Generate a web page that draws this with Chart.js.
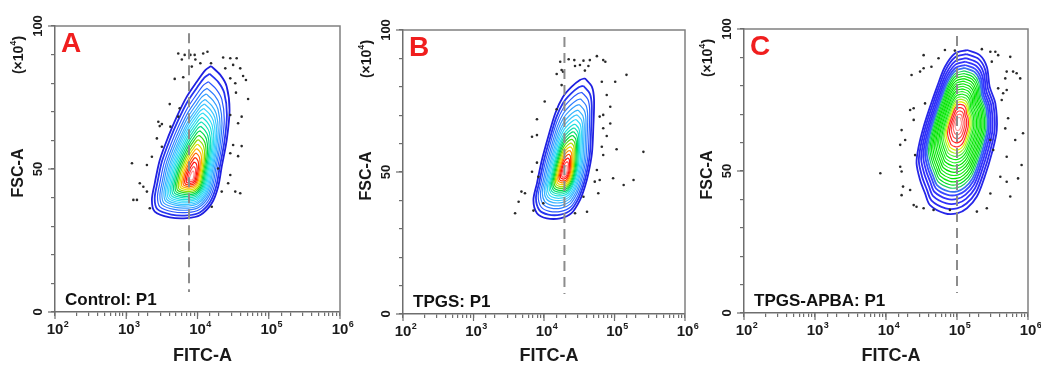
<!DOCTYPE html>
<html>
<head>
<meta charset="utf-8">
<script src="https://cdn.jsdelivr.net/npm/chart.js@4.4.0/dist/chart.umd.min.js"></script>
<style>
  html, body { margin: 0; padding: 0; background: #fff; }
  #wrap { position: relative; width: 1041px; height: 365px; }
  #wrap canvas { position: absolute; left: 0; top: 0; }
</style>
</head>
<body>
<div id="wrap">
  <canvas id="panelA" width="1041" height="365"></canvas>
  <canvas id="panelB" width="1041" height="365"></canvas>
  <canvas id="panelC" width="1041" height="365"></canvas>
</div>
<script>
// x values are log10(FITC-A), y values are FSC-A in units of 10^4
const xTickExp = [2, 3, 4, 5, 6];
const yTickLabels = [0, 50, 100];

// outermost contour of each population
const outlineA = [[4.19,86.0],[4.32,82.9],[4.41,78.8],[4.45,70.6],[4.41,60.1],[4.34,50.8],[4.29,43.8],[4.20,38.0],[4.04,33.9],[3.85,32.8],[3.61,33.1],[3.40,35.1],[3.36,39.2],[3.40,45.0],[3.47,53.1],[3.59,61.3],[3.71,68.3],[3.85,75.3],[3.99,80.5],[4.11,84.6]];
const outlineB = [[4.58,83.0],[4.68,80.0],[4.71,75.4],[4.70,66.0],[4.68,56.6],[4.63,49.5],[4.58,44.8],[4.51,40.1],[4.39,35.5],[4.23,33.7],[4.04,33.7],[3.90,35.5],[3.85,40.1],[3.90,46.0],[3.97,54.2],[4.06,62.4],[4.16,70.7],[4.27,76.5],[4.39,80.0],[4.51,82.4]];
const outlineC = [[5.14,92.6],[5.32,90.8],[5.42,86.7],[5.46,79.7],[5.54,73.8],[5.56,64.4],[5.49,56.2],[5.39,48.0],[5.28,41.0],[5.14,36.9],[5.00,35.1],[4.83,35.1],[4.62,38.0],[4.55,42.1],[4.48,46.8],[4.43,52.7],[4.46,58.6],[4.53,65.6],[4.62,72.6],[4.72,79.7],[4.83,86.7],[4.97,91.4]];

// density peak of each population
const coreA = [3.92, 47];
const coreB = [4.30, 50];
const coreC = [5.02, 66.8];

// contour levels as fraction of the outer contour, outer -> inner
const levelsA = [1.0,0.93,0.86,0.80,0.75,0.70,0.66,0.62,0.58,0.54,0.50,0.46,0.42,0.38,0.34,0.30,0.26,0.22,0.18,0.14,0.10,0.06];
const colorsA = ['#1f1fe0','#2633f0','#2b58ff','#2f7cff','#339cff','#38b4ff','#3cc6ff','#3ad2ff','#30dcf4','#20e0dc','#10e0b8','#00de88','#00da50','#30d820','#90dc00','#e0e000','#ffb000','#ff6a00','#ff2a00','#ff1010','#ff5050','#ff9090'];
const levelsB = [1.0,0.92,0.85,0.78,0.72,0.66,0.61,0.56,0.51,0.47,0.43,0.39,0.35,0.31,0.27,0.23,0.19,0.15,0.11,0.07];
const colorsB = ['#1f1fe0','#2633f0','#2b58ff','#2f7cff','#339cff','#38b4ff','#3cc6ff','#30d6f8','#20e0dc','#10e0b0','#00de70','#00da40','#50d810','#b0dc00','#f0d000','#ff9000','#ff4000','#ff1010','#ff4040','#ff8a8a'];
const levelsC = [1.0,0.945,0.89,0.84,0.795,0.755,0.715,0.68,0.645,0.61,0.575,0.54,0.505,0.47,0.435,0.40,0.365,0.33,0.295,0.26,0.215,0.17,0.125,0.08];
const colorsC = ['#2626e8','#2c2cf2','#3030f8','#3434fc','#3a48ff','#3a70f0','#20d060','#00e020','#10e810','#00e000','#18ec18','#00e000','#20f020','#00e400','#30f030','#10e810','#50f040','#a0f020','#e0f000','#ff3030','#ff2020','#ff4848','#ff7070','#ff9a9a'];

// single events outside the contours
const dotsA = [[3.73,90.4],[3.82,89.9],[3.90,89.9],[3.96,89.9],[4.08,90.4],[4.14,91.0],[3.78,88.3],[3.97,88.3],[4.04,87.0],[4.36,89.0],[4.46,88.7],[4.55,88.7],[3.92,85.8],[4.19,87.0],[4.39,85.2],[4.50,86.4],[4.60,85.2],[4.64,82.5],[4.68,81.1],[3.68,81.5],[3.80,82.1],[4.46,81.7],[4.53,80.0],[4.54,76.7],[4.71,74.5],[3.61,72.7],[3.73,68.3],[3.75,71.2],[3.45,66.5],[3.50,65.7],[3.47,65.0],[4.46,68.9],[4.62,68.3],[4.57,66.0],[3.62,64.8],[3.36,54.3],[3.43,60.7],[3.50,57.8],[4.50,58.4],[4.62,58.0],[4.57,54.5],[4.46,55.5],[4.46,47.9],[4.43,45.0],[4.53,42.1],[4.60,41.5],[4.34,42.1],[3.08,52.0],[3.29,51.4],[3.19,45.0],[3.24,43.8],[3.29,42.1],[3.10,39.2],[3.15,39.2],[3.33,36.3],[4.20,36.8],[4.29,50.2]];
const dotsB = [[4.23,88.8],[4.35,89.7],[4.43,89.4],[4.56,89.2],[4.65,89.4],[4.75,90.8],[4.84,89.4],[4.87,88.8],[4.25,85.9],[4.44,87.3],[4.51,87.7],[4.63,87.3],[4.18,84.5],[4.27,85.3],[4.58,85.7],[5.17,84.2],[5.01,81.8],[4.82,81.8],[4.25,80.6],[4.01,74.8],[4.18,72.1],[4.89,77.1],[4.94,73.0],[4.84,70.1],[4.79,69.5],[3.90,68.6],[4.94,67.1],[3.83,62.4],[3.90,63.0],[4.84,65.4],[4.89,62.7],[4.82,58.9],[4.84,56.0],[5.03,58.0],[5.41,57.1],[3.90,53.3],[3.83,50.1],[3.92,48.3],[4.75,50.7],[4.72,46.6],[4.79,47.2],[4.98,47.8],[5.13,45.4],[5.27,47.2],[4.77,42.5],[4.56,41.3],[4.61,36.0],[4.44,35.5],[3.68,43.1],[3.73,42.5],[3.64,39.5],[3.59,35.5],[3.85,36.4],[3.99,39.0]];
const dotsC = [[4.53,90.8],[4.74,89.7],[4.83,92.6],[4.97,92.4],[5.35,92.9],[5.47,92.0],[5.54,92.0],[5.58,90.8],[5.75,90.2],[5.89,82.6],[5.79,85.0],[5.84,84.4],[5.70,85.0],[5.68,82.6],[5.49,88.5],[4.53,86.2],[4.64,86.7],[4.48,85.0],[4.36,83.8],[4.39,72.1],[4.34,71.5],[4.55,73.8],[4.22,64.4],[4.39,68.0],[4.27,60.9],[4.20,59.2],[4.41,55.6],[4.20,51.5],[4.22,49.8],[3.92,49.2],[4.24,44.5],[4.34,43.3],[4.22,41.5],[4.39,38.0],[4.43,37.4],[4.53,36.9],[4.67,36.3],[4.90,36.3],[5.28,35.7],[5.42,36.9],[5.47,42.1],[5.61,48.0],[5.70,46.2],[5.75,41.0],[5.86,47.4],[5.91,52.1],[5.70,55.0],[5.82,60.9],[5.68,65.0],[5.72,68.6],[5.65,77.4],[5.70,78.5],[5.63,75.0],[5.58,79.1],[5.93,63.3],[5.47,60.9],[5.51,57.4]];

// dashed marker line (FITC-A value) and its FSC-A extent
const gateA = 7600;
const gateB = 19500;
const gateC = 100000;
const gateRange = [97.5, 7];

const FONT = '"Liberation Sans", Arial, sans-serif';

const panels = [
  { id: 'panelA', letter: 'A', label: 'Control: P1', box: [55, 26, 340, 312], outline: outlineA, core: coreA, levels: levelsA, colors: colorsA, dots: dotsA, gate: gateA, thick: 2 },
  { id: 'panelB', letter: 'B', label: 'TPGS: P1', box: [403, 30, 685, 314], outline: outlineB, core: coreB, levels: levelsB, colors: colorsB, dots: dotsB, gate: gateB, thick: 2 },
  { id: 'panelC', letter: 'C', label: 'TPGS-APBA: P1', box: [744, 29, 1028, 313], outline: outlineC, core: coreC, levels: levelsC, colors: colorsC, dots: dotsC, gate: gateC, thick: 6 }
];

function buildDatasets(p) {
  const ds = [];
  ds.push({
    label: 'gate',
    data: [{ x: p.gate, y: gateRange[0] }, { x: p.gate, y: gateRange[1] }],
    showLine: true, borderColor: '#8c8c8c', borderWidth: 2, borderDash: [10, 6],
    pointRadius: 0, order: 0
  });
  ds.push({
    label: 'events',
    data: p.dots.map(([lx, y]) => ({ x: Math.pow(10, lx), y: y })),
    pointRadius: 1.3, pointBackgroundColor: '#2a2a2a', pointBorderWidth: 0, order: 1
  });
  p.levels.forEach((f, i) => {
    const pts = p.outline.map(([lx, y]) => ({
      x: Math.pow(10, p.core[0] + f * (lx - p.core[0])),
      y: p.core[1] + f * (y - p.core[1])
    }));
    pts.push(pts[0]);
    ds.push({
      label: 'level ' + (i + 1),
      data: pts, showLine: true, fill: false,
      borderColor: p.colors[i], borderWidth: i < p.thick ? 1.8 : 1.2,
      pointRadius: 0, tension: 0.3,
      order: 2 + p.levels.length - i
    });
  });
  return ds;
}

function line(ctx, x1, y1, x2, y2) {
  ctx.beginPath(); ctx.moveTo(x1, y1); ctx.lineTo(x2, y2); ctx.stroke();
}

// frame, long ticks, axis labels and panel texts
const panelText = {
  id: 'panelText',
  afterDraw(chart, args, opts) {
    const ctx = chart.ctx;
    const a = chart.chartArea;
    const xs = chart.scales.x, ys = chart.scales.y;
    ctx.save();
    ctx.strokeStyle = '#808080';
    ctx.lineWidth = 1.5;
    ctx.beginPath();
    ctx.moveTo(a.left, a.top); ctx.lineTo(a.right, a.top); ctx.lineTo(a.right, a.bottom);
    ctx.stroke();

    ctx.strokeStyle = '#6e6e6e';
    ctx.lineWidth = 1.2;
    xTickExp.forEach(e => {
      const px = xs.getPixelForValue(Math.pow(10, e));
      line(ctx, px, a.bottom, px, a.bottom + 7);
    });
    yTickLabels.forEach(v => {
      const py = ys.getPixelForValue(v);
      line(ctx, a.left - 7, py, a.left, py);
    });

    ctx.fillStyle = '#1a1a1a';
    // x tick labels 10^n
    xTickExp.forEach(e => {
      const px = xs.getPixelForValue(Math.pow(10, e));
      ctx.font = 'bold 15px ' + FONT;
      ctx.textAlign = 'center';
      ctx.textBaseline = 'alphabetic';
      ctx.fillText('10', px, a.bottom + 22);
      const w = ctx.measureText('10').width;
      ctx.font = 'bold 9px ' + FONT;
      ctx.textAlign = 'left';
      ctx.fillText(String(e), px + w / 2 + 0.5, a.bottom + 15);
    });
    // y tick labels, rotated
    yTickLabels.forEach(v => {
      const py = ys.getPixelForValue(v);
      ctx.save();
      ctx.translate(a.left - 17, py);
      ctx.rotate(-Math.PI / 2);
      ctx.font = 'bold 13px ' + FONT;
      ctx.textAlign = 'center';
      ctx.textBaseline = 'middle';
      ctx.fillText(String(v), 0, 0);
      ctx.restore();
    });
    // y axis title and multiplier
    ctx.save();
    ctx.translate(a.left - 36, (a.top + a.bottom) / 2 + 4);
    ctx.rotate(-Math.PI / 2);
    ctx.font = 'bold 16px ' + FONT;
    ctx.textAlign = 'center';
    ctx.textBaseline = 'middle';
    ctx.fillText('FSC-A', 0, 0);
    ctx.restore();

    ctx.save();
    ctx.translate(a.left - 36, a.top + 29);
    ctx.rotate(-Math.PI / 2);
    ctx.textBaseline = 'middle';
    ctx.textAlign = 'left';
    const big = 'bold 14px ' + FONT, small = 'bold 9px ' + FONT;
    ctx.font = big;
    const w1 = ctx.measureText('(\u00d710').width, w3 = ctx.measureText(')').width;
    ctx.font = small;
    const w2 = ctx.measureText('4').width;
    let x0 = -(w1 + w2 + w3) / 2;
    ctx.font = big; ctx.fillText('(\u00d710', x0, 0); x0 += w1;
    ctx.font = small; ctx.fillText('4', x0, -5); x0 += w2;
    ctx.font = big; ctx.fillText(')', x0, 0);
    ctx.restore();

    // x axis title
    ctx.font = 'bold 18px ' + FONT;
    ctx.textAlign = 'center';
    ctx.textBaseline = 'alphabetic';
    ctx.fillText('FITC-A', (a.left + a.right) / 2 + 5, 361);

    // panel letter and population label
    ctx.fillStyle = '#f01e1e';
    ctx.font = 'bold 28px ' + FONT;
    ctx.textAlign = 'left';
    ctx.fillText(opts.letter, a.left + 6, a.top + 26);
    ctx.fillStyle = '#111';
    ctx.font = 'bold 17px ' + FONT;
    ctx.fillText(opts.label, a.left + 10, a.bottom - 7.5);
    ctx.restore();
  }
};

panels.forEach(p => {
  const [L, T, R, B] = p.box;
  new Chart(document.getElementById(p.id), {
    type: 'scatter',
    data: { datasets: buildDatasets(p) },
    options: {
      responsive: false,
      animation: false,
      devicePixelRatio: 1,
      events: [],
      layout: { padding: { left: L - 10, top: T, right: 1041 - R, bottom: 365 - B - 10 } },
      scales: {
        x: {
          type: 'logarithmic', min: 100, max: 1000000, position: 'bottom',
          ticks: { display: false, autoSkip: false },
          grid: { drawOnChartArea: false, drawTicks: true, tickLength: 4, color: '#6e6e6e', lineWidth: 1.2 },
          border: { display: true, color: '#6e6e6e', width: 1.5 },
          afterFit: s => { s.height = 10; }
        },
        y: {
          type: 'linear', min: 0, max: 100,
          ticks: { display: false, stepSize: 10 },
          grid: { drawOnChartArea: false, drawTicks: true, tickLength: 4, color: '#6e6e6e', lineWidth: 1.2 },
          border: { display: true, color: '#6e6e6e', width: 1.5 },
          afterFit: s => { s.width = 10; }
        }
      },
      plugins: {
        legend: { display: false },
        tooltip: { enabled: false },
        panelText: { letter: p.letter, label: p.label }
      }
    },
    plugins: [panelText]
  });
});
</script>
</body>
</html>
